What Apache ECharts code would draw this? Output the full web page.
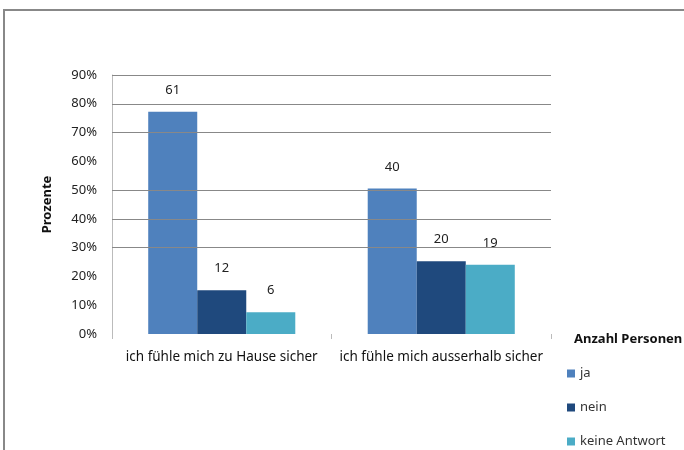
<!DOCTYPE html>
<html>
<head>
<meta charset="utf-8">
<script src="https://cdn.jsdelivr.net/npm/echarts@6/dist/echarts.min.js"></script>
<style>
  html, body { margin: 0; padding: 0; background: #fff; }
  #chart { width: 684px; height: 450px; }
</style>
</head>
<body>
<div id="chart"></div>
<script>
// categories and values
var categories = ['ich fühle mich zu Hause sicher', 'ich fühle mich ausserhalb sicher']
var seriesNames = ['ja', 'nein', 'keine Antwort']
// bar heights in percent
var jaPct = [77.2, 50.6]
var neinPct = [15.2, 25.3]
var keinePct = [7.6, 24.1]
// labels over the bars (number of persons)
var jaCount = [61, 40]
var neinCount = [12, 20]
var keineCount = [6, 19]
// gridlines that are visible in the scan
var gridLevels = [30, 40, 50, 70, 80, 90]

var colors = ['#4f81bd', '#1f497d', '#4bacc6']
var font = 'Noto Sans'

var chart = echarts.init(document.getElementById('chart'), null, { renderer: 'canvas' })

function barSeries(name, pct, counts, color) {
  return {
    name: name,
    type: 'bar',
    z: 3,
    barGap: '0%',
    barCategoryGap: '33%',
    itemStyle: { color: color },
    label: {
      show: true,
      position: 'top',
      distance: 15,
      color: '#222',
      fontFamily: font,
      fontSize: 13,
      formatter: function (p) { return counts[p.dataIndex] }
    },
    data: pct
  }
}

var option = {
  animation: false,
  backgroundColor: '#fff',
  textStyle: { fontFamily: font },
  title: {
    text: 'Anzahl Personen',
    left: 569,
    top: 328,
    textStyle: { fontFamily: font, fontSize: 13, fontWeight: 'bold', color: '#111' }
  },
  legend: {
    orient: 'vertical',
    left: 562,
    top: 362,
    height: 120,
    itemWidth: 8,
    itemHeight: 8,
    itemGap: 21,
    icon: 'rect',
    textStyle: { fontFamily: font, fontSize: 13, color: '#333' },
    data: seriesNames
  },
  graphic: [{
    type: 'rect',
    shape: { x: 4, y: 10, width: 700, height: 460 },
    style: { fill: 'none', stroke: '#888', lineWidth: 2 },
    silent: true
  }],
  grid: { left: 112, right: 133, top: 75, bottom: 116 },
  xAxis: {
    type: 'category',
    data: categories,
    axisLine: { show: false },
    axisTick: { show: true, length: 5, lineStyle: { color: '#bbb' } },
    axisLabel: { interval: 0, margin: 16, color: '#111', fontFamily: font, fontSize: 13.5 }
  },
  yAxis: {
    type: 'value',
    min: 0,
    max: 90,
    interval: 10,
    name: 'Prozente',
    nameLocation: 'middle',
    nameGap: 58,
    nameTextStyle: { fontFamily: font, fontSize: 13, fontWeight: 'bold', color: '#111' },
    axisLine: { show: true, lineStyle: { color: '#bbb' } },
    axisTick: { show: false },
    splitLine: { show: false },
    axisLabel: { margin: 15, color: '#222', fontFamily: font, fontSize: 13, formatter: '{value}%' }
  },
  series: [
    {
      name: 'grid',
      type: 'line',
      z: 1,
      data: [],
      silent: true,
      markLine: {
        silent: true,
        symbol: 'none',
        label: { show: false },
        lineStyle: { color: '#888', width: 1, type: 'solid' },
        data: gridLevels.map(function (v) { return { yAxis: v } })
      }
    },
    barSeries(seriesNames[0], jaPct, jaCount, colors[0]),
    barSeries(seriesNames[1], neinPct, neinCount, colors[1]),
    barSeries(seriesNames[2], keinePct, keineCount, colors[2])
  ]
}

chart.setOption(option)
window.addEventListener('resize', function () { chart.resize() })
</script>
</body>
</html>
